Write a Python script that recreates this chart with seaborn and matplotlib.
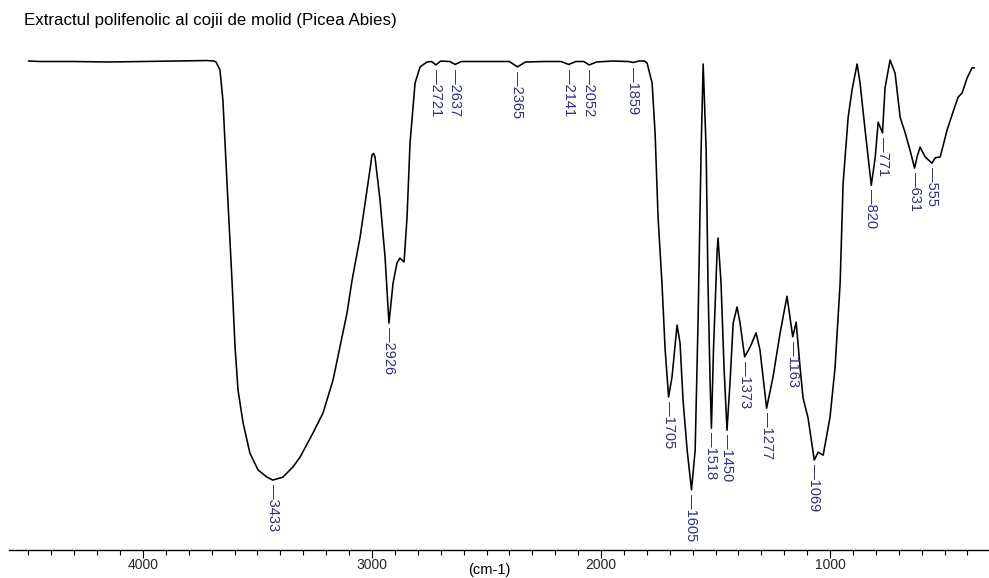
import numpy as np
import pandas as pd
import matplotlib
matplotlib.use("Agg")
import matplotlib.pyplot as plt
import seaborn as sns
from matplotlib.ticker import MultipleLocator

title = "Extractul polifenolic al cojii de molid (Picea Abies)"
x_label = "(cm-1)"

wavenumber = [4500, 4450, 4300, 4150, 4000, 3850, 3720, 3690, 3681, 3664, 3651, 3633, 3611, 3598,
              3585, 3563, 3533, 3498, 3459, 3433, 3389, 3345, 3314, 3258, 3214, 3170, 3140, 3109,
              3087, 3052, 3022, 3006, 3000, 2993, 2987, 2965, 2943, 2926, 2908, 2891, 2878, 2860,
              2847, 2834, 2812, 2790, 2760, 2740, 2721, 2700, 2660, 2637, 2610, 2500, 2400, 2365,
              2330, 2250, 2175, 2141, 2110, 2075, 2052, 2020, 1950, 1880, 1859, 1835, 1810, 1799,
              1777, 1764, 1751, 1734, 1720, 1705, 1690, 1668, 1655, 1642, 1624, 1605, 1589, 1576,
              1563, 1554, 1541, 1533, 1524, 1518, 1509, 1493, 1489, 1476, 1463, 1450, 1437, 1423,
              1406, 1393, 1373, 1349, 1323, 1306, 1277, 1249, 1218, 1188, 1163, 1148, 1131, 1118,
              1096, 1069, 1052, 1030, 1000, 978, 956, 943, 921, 904, 882, 869, 847, 820, 803, 790,
              771, 760, 738, 716, 694, 672, 651, 631, 620, 607, 585, 555, 541, 519, 489, 463, 441,
              423, 402, 380, 370]
transmittance = [99.8, 99.7, 99.7, 99.6, 99.7, 99.8, 99.9, 99.8, 99.6, 98.0, 91.8, 74.8, 54.6, 41.3,
                 32.5, 25.8, 19.6, 16.2, 14.7, 14.1, 14.7, 16.8, 18.8, 23.7, 27.8, 34.6, 41.3, 48.3,
                 55.0, 63.8, 73.4, 78.5, 80.6, 80.9, 80.2, 71.4, 59.7, 46.2, 54.4, 58.5, 59.5, 58.7,
                 67.9, 83.0, 95.3, 98.6, 99.6, 99.7, 99.0, 99.8, 99.7, 99.1, 99.7, 99.7, 99.7, 98.6,
                 99.6, 99.7, 99.7, 99.1, 99.7, 99.7, 99.0, 99.6, 99.8, 99.7, 99.5, 99.8, 99.8, 99.4,
                 95.3, 85.1, 67.9, 54.4, 40.7, 31.1, 35.2, 45.8, 42.1, 30.5, 20.2, 12.1, 20.2, 47.4,
                 81.6, 99.2, 81.6, 54.4, 34.6, 24.7, 40.7, 61.1, 63.6, 54.4, 37.2, 24.3, 33.9, 46.2,
                 49.5, 46.2, 39.3, 41.3, 44.2, 40.7, 28.8, 35.2, 44.2, 51.7, 43.4, 46.4, 37.2, 30.9,
                 26.8, 18.2, 19.8, 19.2, 27.0, 37.2, 54.4, 74.8, 88.3, 93.9, 99.2, 95.3, 85.7, 74.4,
                 80.0, 87.3, 85.1, 94.3, 100.0, 97.3, 88.3, 85.1, 81.6, 77.9, 80.2, 82.2, 80.2, 78.9,
                 80.0, 80.2, 85.7, 89.4, 92.4, 93.3, 96.3, 98.4, 98.4]

peak_labels = [3433, 2926, 2721, 2637, 2365, 2141, 2052, 1859, 1705, 1605, 1518, 1450, 1373,
               1277, 1163, 1069, 820, 771, 631, 555]

tick_values = [4000, 3000, 2000, 1000]

df = pd.DataFrame({"wn": wavenumber, "T": transmittance})

sns.set_style("white")
plt.rcParams["font.family"] = ["Liberation Sans", "DejaVu Sans"]

fig = plt.figure(figsize=(9.89, 5.78), dpi=100)
ax = fig.add_axes([9 / 989, 28 / 578, 980 / 989, 510 / 578])

sns.lineplot(data=df, x="wn", y="T", ax=ax, color="black", linewidth=1.15, sort=False,
             estimator=None)

ax.set_xlim(4585, 306)
ax.set_ylim(-0.2, 104.1)

for s in ["top", "left", "right"]:
    ax.spines[s].set_visible(False)
ax.spines["bottom"].set_linewidth(1.0)
ax.spines["bottom"].set_color("black")

ax.set_yticks([])
ax.set_xticks(tick_values)
ax.set_xticklabels([str(v) for v in tick_values])
ax.xaxis.set_minor_locator(MultipleLocator(100))
ax.tick_params(axis="x", which="major", direction="out", length=6, width=0.8, pad=0,
               labelsize=10, bottom=True, color="black")
ax.tick_params(axis="x", which="minor", direction="out", length=3.8, width=0.8, bottom=True,
               color="black")
ax.set_xlabel("")
ax.set_ylabel("")

wn_arr = np.array(wavenumber[::-1])
t_arr = np.array(transmittance[::-1])
for p in peak_labels:
    tv = float(np.interp(p, wn_arr, t_arr))
    ax.annotate("\u2014" + str(p), xy=(p, tv), xytext=(0, -3), textcoords="offset points",
                rotation=-90, ha="center", va="top", fontsize=10.5, color="#2f2f80")

fig.text(24 / 989, 1 - 21 / 578, title, ha="left", va="center", fontsize=12.2, color="black")
fig.text(489 / 989, 1 / 578, x_label, ha="center", va="bottom", fontsize=10.5, color="black")

fig.savefig("out.png", dpi=100, facecolor="white")
